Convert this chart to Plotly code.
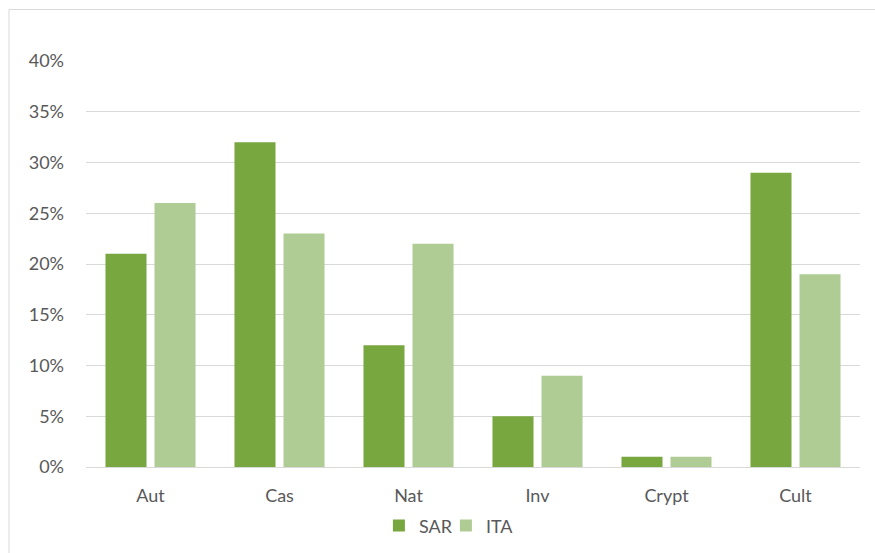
import plotly.graph_objects as go

categories = ["Aut", "Cas", "Nat", "Inv", "Crypt", "Cult"]
sar = [0.21, 0.32, 0.12, 0.05, 0.01, 0.29]
ita = [0.26, 0.23, 0.22, 0.09, 0.01, 0.19]
tick_vals = [0, 0.05, 0.10, 0.15, 0.20, 0.25, 0.30, 0.35, 0.40]
tick_text = ["0%", "5%", "10%", "15%", "20%", "25%", "30%", "35%", "40%"]

font = dict(family="Lato, Open Sans, sans-serif", size=18, color="#595959")

fig = go.Figure()
fig.add_trace(go.Bar(name="SAR", x=categories, y=sar,
                     marker=dict(color="#78a63f", line=dict(width=0))))
fig.add_trace(go.Bar(name="ITA", x=categories, y=ita,
                     marker=dict(color="#afcc94", line=dict(width=0))))

fig.update_layout(
    width=875, height=553,
    margin=dict(l=86, r=15, t=61, b=86, autoexpand=False),
    paper_bgcolor="white", plot_bgcolor="white",
    barmode="group", bargap=0.24, bargroupgap=0.163,
    font=font,
    showlegend=True,
    legend=dict(orientation="h", x=0.465, xanchor="center",
                y=-0.145, yanchor="middle",
                font=font, itemwidth=30, traceorder="normal",
                entrywidth=22, tracegroupgap=0),
    xaxis=dict(showgrid=False, showline=True, linecolor="#d9d9d9", linewidth=1,
               ticks="", tickfont=font, ticklabelstandoff=12, tickangle=0),
    yaxis=dict(range=[0, 0.40], tickvals=tick_vals, ticktext=tick_text,
               showgrid=True, gridcolor="#d9d9d9", gridwidth=1, zeroline=False,
               showline=False, ticks="", tickfont=font, ticklabelstandoff=21),
    shapes=[dict(type="rect", xref="paper", yref="paper",
                 x0=(9 - 86) / 774, x1=(890 - 86) / 774,
                 y0=(467 - 570) / 406, y1=(467 - 9.5) / 406,
                 line=dict(color="#d9d9d9", width=1), fillcolor="rgba(0,0,0,0)",
                 layer="below")],
)

fig.write_html("out.html")
